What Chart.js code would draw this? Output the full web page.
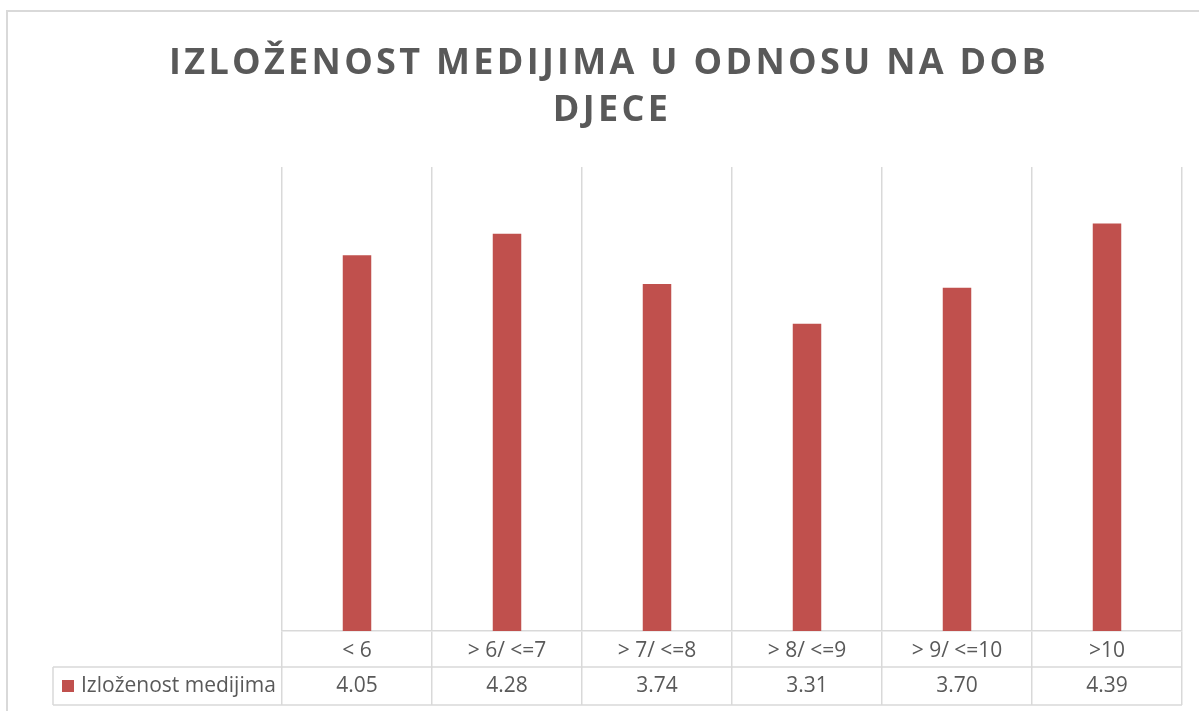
<!DOCTYPE html>
<html>
<head>
<meta charset="utf-8">
<script src="https://cdn.jsdelivr.net/npm/chart.js@4.4.0/dist/chart.umd.min.js"></script>
<style>
html, body { margin: 0; padding: 0; background: #fff; }
#wrap { position: relative; width: 1199px; height: 711px; }
</style>
</head>
<body>
<div id="wrap"><canvas id="chartMediji"></canvas></div>
<script>
var titleLines = ["IZLOŽENOST MEDIJIMA U ODNOSU NA DOB", "DJECE"];
var ageGroups = ["< 6", "> 6/ <=7", "> 7/ <=8", "> 8/ <=9", "> 9/ <=10", ">10"];
var seriesName = "Izloženost medijima";
var exposure = [4.05, 4.28, 3.74, 3.31, 3.70, 4.39];

var textGray = '#595959';
var lineGray = '#d9d9d9';
var barRed = '#c0504d';
var bodyFont = '"Open Sans", sans-serif';

// frame, title and the excel-like data table under the axis
var tablePlugin = {
    id: 'tablePlugin',
    beforeDraw: function(chart) {
        var ctx = chart.ctx;
        ctx.save();
        ctx.strokeStyle = lineGray;
        ctx.lineWidth = 2;
        ctx.beginPath();
        ctx.moveTo(7, 711);
        ctx.lineTo(7, 11);
        ctx.lineTo(1199, 11);
        ctx.stroke();
        ctx.restore();
    },
    afterDraw: function(chart) {
        var ctx = chart.ctx;
        var xs = chart.scales.x;
        var area = chart.chartArea;
        var rowTop = area.bottom + 36;
        var rowBottom = area.bottom + 74;
        var mid = (rowTop + rowBottom) / 2;
        var keyLeft = 53;

        ctx.save();
        // title
        ctx.fillStyle = textGray;
        ctx.textAlign = 'center';
        ctx.textBaseline = 'alphabetic';
        ctx.font = 'bold 36px "Open Sans"';
        ctx.letterSpacing = '3.3px';
        ctx.fillText(titleLines[0], 609, 74);
        ctx.fillText(titleLines[1], 612, 121);
        ctx.letterSpacing = '0px';

        // table lines
        ctx.strokeStyle = lineGray;
        ctx.lineWidth = 1.5;
        ctx.beginPath();
        ctx.moveTo(keyLeft, rowTop);
        ctx.lineTo(area.right, rowTop);
        ctx.moveTo(keyLeft, rowBottom);
        ctx.lineTo(area.right, rowBottom);
        ctx.moveTo(keyLeft, rowTop);
        ctx.lineTo(keyLeft, rowBottom);
        ctx.stroke();

        // legend key + series name
        ctx.fillStyle = barRed;
        ctx.fillRect(62, mid - 6, 12, 12);
        ctx.fillStyle = textGray;
        ctx.font = '21px ' + bodyFont;
        ctx.textAlign = 'left';
        ctx.textBaseline = 'middle';
        ctx.fillText(seriesName, 81, mid);

        // values
        ctx.textAlign = 'center';
        exposure.forEach(function(v, i) {
            ctx.fillText(v.toFixed(2), xs.getPixelForValue(i), mid);
        });
        ctx.restore();
    }
};

var ctm = document.getElementById("chartMediji");

var chartMediji = new Chart(ctm, {
    type: 'bar',
    data: {
        labels: ageGroups,
        datasets: [{
            label: seriesName,
            data: exposure,
            backgroundColor: barRed,
            borderWidth: 0,
            barPercentage: 0.19,
            categoryPercentage: 1
        }]
    },
    options: {
        responsive: true,
        maintainAspectRatio: false,
        animation: false,
        layout: {
            padding: { top: 167, left: 282, right: 17, bottom: 6 }
        },
        plugins: {
            legend: { display: false },
            tooltip: { enabled: false },
            title: { display: false }
        },
        scales: {
            x: {
                grid: { offset: true, color: lineGray, lineWidth: 1.5, tickLength: 74, drawTicks: true },
                border: { display: true, color: lineGray, width: 1.5 },
                ticks: {
                    color: textGray,
                    font: { family: bodyFont, size: 21 },
                    padding: -67,
                    maxRotation: 0,
                    autoSkip: false
                },
                afterFit: function(s) { s.height = 74; }
            },
            y: {
                display: false,
                min: 0,
                max: 5
            }
        }
    },
    plugins: [tablePlugin]
});
</script>
</body>
</html>
